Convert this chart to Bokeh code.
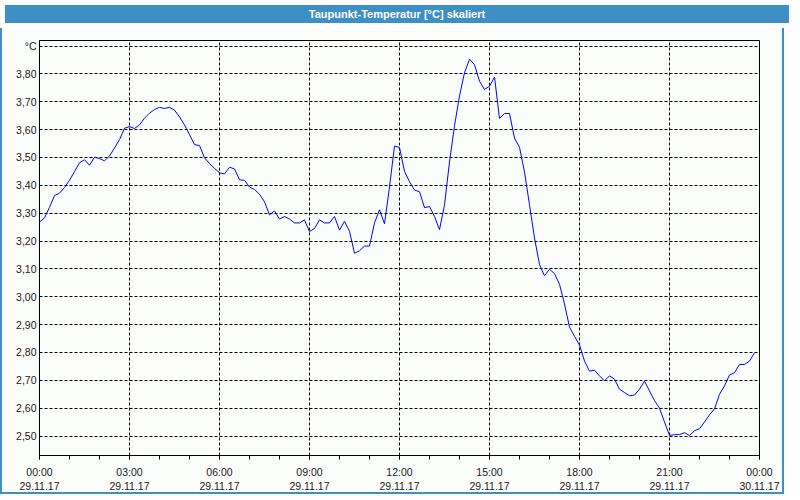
from bokeh.plotting import figure
from bokeh.models import Range1d, FixedTicker, Div
from bokeh.layouts import column
from bokeh.embed import file_html
from bokeh.resources import INLINE

title_text = "Taupunkt-Temperatur [°C] skaliert"

# 10-minute readings from 00:00 to 23:50 on 29.11.17 (hours since midnight)
hours = [i / 6 for i in range(144)]
dewpoint = [
    3.268, 3.283, 3.321, 3.363, 3.372, 3.392, 3.418, 3.449, 3.481, 3.492,
    3.472, 3.501, 3.496, 3.488, 3.505, 3.534, 3.564, 3.605, 3.611, 3.604,
    3.617, 3.641, 3.659, 3.672, 3.680, 3.676, 3.680, 3.670, 3.646, 3.617,
    3.582, 3.546, 3.543, 3.499, 3.478, 3.461, 3.445, 3.441, 3.465, 3.459,
    3.420, 3.418, 3.394, 3.385, 3.368, 3.341, 3.294, 3.308, 3.279, 3.288,
    3.279, 3.265, 3.265, 3.276, 3.234, 3.245, 3.276, 3.265, 3.265, 3.288,
    3.239, 3.271, 3.235, 3.156, 3.165, 3.182, 3.182, 3.265, 3.312, 3.262,
    3.394, 3.541, 3.536, 3.450, 3.413, 3.383, 3.377, 3.320, 3.324, 3.288,
    3.241, 3.330, 3.484, 3.614, 3.721, 3.804, 3.853, 3.833, 3.774, 3.744,
    3.756, 3.789, 3.640, 3.658, 3.658, 3.569, 3.537, 3.448, 3.330, 3.211,
    3.116, 3.075, 3.099, 3.083, 3.045, 2.974, 2.891, 2.858, 2.827, 2.769,
    2.733, 2.736, 2.716, 2.698, 2.716, 2.704, 2.668, 2.656, 2.645, 2.647,
    2.668, 2.697, 2.662, 2.627, 2.600, 2.550, 2.502, 2.505, 2.505, 2.512,
    2.502, 2.519, 2.526, 2.550, 2.576, 2.597, 2.650, 2.680, 2.719, 2.727,
    2.757, 2.757, 2.769, 2.799,
]

x_ticks = [0, 3, 6, 9, 12, 15, 18, 21, 24]
x_tick_labels = ["00:00\n29.11.17", "03:00\n29.11.17", "06:00\n29.11.17",
                 "09:00\n29.11.17", "12:00\n29.11.17", "15:00\n29.11.17",
                 "18:00\n29.11.17", "21:00\n29.11.17", "00:00\n30.11.17"]
y_ticks = [2.5, 2.6, 2.7, 2.8, 2.9, 3.0, 3.1, 3.2, 3.3, 3.4, 3.5, 3.6, 3.7, 3.8, 3.9]
y_tick_labels = ["2,50", "2,60", "2,70", "2,80", "2,90", "3,00", "3,10", "3,20",
                 "3,30", "3,40", "3,50", "3,60", "3,70", "3,80", "°C"]

BAR = "#3d8fc6"
BG = "#fbfdfb"
FONT = "Liberation Sans"

header = Div(text=title_text, width=784, height=18,
             styles={"background-color": BAR, "color": "white", "font-weight": "bold",
                     "text-align": "center", "font-family": FONT, "font-size": "11px",
                     "line-height": "18px"})

p = figure(width=784, height=466, output_backend="svg", toolbar_location=None,
           x_range=Range1d(0, 24), y_range=Range1d(2.43, 3.92),
           min_border_left=37, min_border_right=27, min_border_top=12, min_border_bottom=36)
p.background_fill_color = BG
p.border_fill_color = BG
p.outline_line_color = "black"
p.outline_line_width = 1
p.styles = {"border-left": "2px solid " + BAR, "border-right": "2px solid " + BAR,
            "border-bottom": "2px solid " + BAR, "box-sizing": "border-box"}

p.line(hours, dewpoint, line_color="#0000ff", line_width=1)

p.xaxis.ticker = FixedTicker(ticks=x_ticks, minor_ticks=list(range(25)))
p.xaxis.major_label_overrides = {t: l for t, l in zip(x_ticks, x_tick_labels)}
p.yaxis.ticker = FixedTicker(ticks=y_ticks)
p.yaxis.major_label_overrides = {t: l for t, l in zip(y_ticks, y_tick_labels)}

for ax in (p.xaxis, p.yaxis):
    ax.axis_line_color = "black"
    ax.major_label_text_font = FONT
    ax.major_label_text_font_size = "10.5px"
    ax.major_label_text_color = "#1a1a1a"
    ax.major_tick_in = 0
    ax.minor_tick_in = 0

p.xaxis.major_tick_out = 4
p.xaxis.minor_tick_out = 4
p.xaxis.major_tick_line_color = "black"
p.xaxis.minor_tick_line_color = "black"
p.xaxis.major_label_standoff = 6
p.yaxis.major_tick_out = 0
p.yaxis.minor_tick_line_color = None
p.yaxis.major_tick_line_color = None
p.yaxis.major_label_standoff = 3

for g in (p.xgrid, p.ygrid):
    g.grid_line_color = "black"
    g.grid_line_dash = "3 2"
    g.grid_line_width = 1
    g.grid_line_alpha = 1.0
p.xgrid.ticker = FixedTicker(ticks=x_ticks)
p.ygrid.ticker = FixedTicker(ticks=y_ticks)

layout = column(header, p, spacing=0)
open("out.html", "w").write(file_html(layout, INLINE))
